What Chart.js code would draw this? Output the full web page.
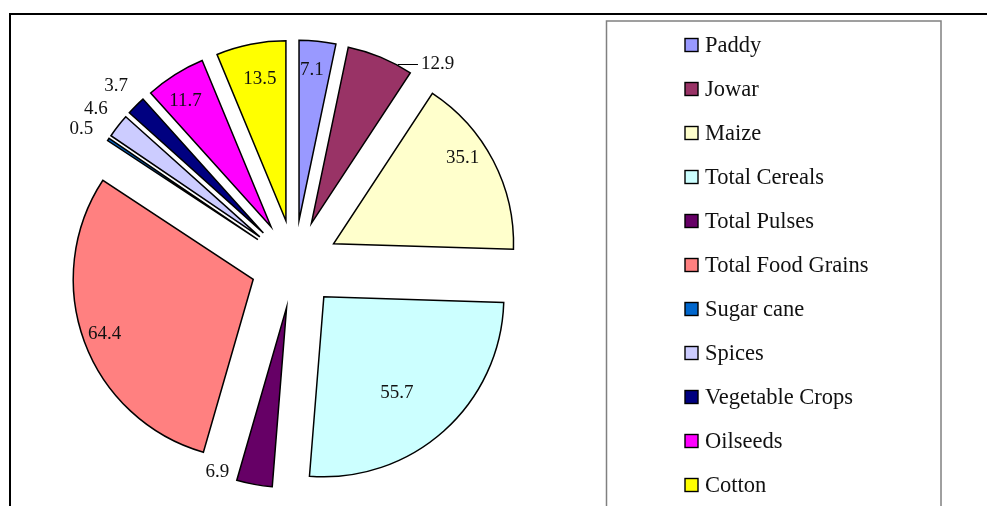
<!DOCTYPE html>
<html>
<head>
<meta charset="utf-8">
<script src="https://cdn.jsdelivr.net/npm/chart.js@4/dist/chart.umd.min.js"></script>
<style>
  html, body { margin: 0; padding: 0; background: #fff; }
  #wrap { width: 987px; height: 506px; }
</style>
</head>
<body>
<div id="wrap"><canvas id="crop-chart" width="987" height="506"></canvas></div>
<script>
// Crop data
const crops = ['Paddy', 'Jowar', 'Maize', 'Total Cereals', 'Total Pulses', 'Total Food Grains',
               'Sugar cane', 'Spices', 'Vegetable Crops', 'Oilseeds', 'Cotton'];
const shares = [7.1, 12.9, 35.1, 55.7, 6.9, 64.4, 0.5, 4.6, 3.7, 11.7, 13.5];
const sliceColors = ['#9999FF', '#993366', '#FFFFCC', '#CCFFFF', '#660066', '#FF8080',
                     '#0066CC', '#CCCCFF', '#000080', '#FF00FF', '#FFFF00'];

// Layout
const EXPLODE = 44;          // px every slice is pulled out
const PIE_RADIUS = 180;
const FONT = '"Liberation Serif", "Times New Roman", serif';

// Where each value label goes (Excel "best fit" look)
const outsideLabels = ['Jowar', 'Total Pulses', 'Sugar cane', 'Spices', 'Vegetable Crops'];
const labelNudge = {
    'Jowar': { angle: 13, dist: -6, leader: true },
    'Total Pulses': { angle: 10, dist: -30 },
    'Sugar cane': { angle: -1.5 },
    'Maize': { angle: -6, f: 0.86 },
    'Total Cereals': { angle: 4.5, f: 0.67 },
    'Total Food Grains': { f: 0.88 },
    'Oilseeds': { angle: -2, f: 0.845 },
    'Cotton': { angle: 0.8, f: 0.8 },
    'Paddy': { angle: -1 }
};

// Chart.js v4 moves an arc by offset/4, but also grows its radius by offset/4 * fix
// (fix = 1 - sin(circumference)) and trims its angle. Undo both so the pie looks
// like Excel's evenly exploded one.
const evenExplode = {
    id: 'evenExplode',
    afterDatasetUpdate(chart, args) {
        chart.getDatasetMeta(args.index).data.forEach(arc => {
            const fix = 1 - Math.sin(Math.min(Math.PI, arc.circumference));
            const grow = EXPLODE * fix;
            const widen = grow / (Math.PI * PIE_RADIUS) / 2;
            arc.outerRadius = PIE_RADIUS - grow;
            arc.startAngle -= widen;
            arc.endAngle += widen;
        });
    }
};

const valueLabels = {
    id: 'valueLabels',
    afterDatasetsDraw(chart) {
        const ctx = chart.ctx;
        const meta = chart.getDatasetMeta(0);
        ctx.save();
        ctx.font = '19px ' + FONT;
        ctx.fillStyle = '#111';
        ctx.textBaseline = 'middle';
        ctx.textAlign = 'center';
        meta.data.forEach((arc, i) => {
            const p = arc.getProps(['x', 'y', 'startAngle', 'endAngle'], true);
            const mid = (p.startAngle + p.endAngle) / 2;
            const name = crops[i];
            const nudge = labelNudge[name] || {};
            const ang = mid + (nudge.angle || 0) * Math.PI / 180;
            const text = String(shares[i]);
            let lx, ly;
            if (outsideLabels.includes(name)) {
                const d = PIE_RADIUS + EXPLODE + 28 + (nudge.dist || 0);
                lx = p.x + d * Math.cos(ang);
                ly = p.y + d * Math.sin(ang);
                if (nudge.leader) {
                    const cx = p.x + EXPLODE * Math.cos(mid);
                    const cy = p.y + EXPLODE * Math.sin(mid);
                    const dy = ly - cy;
                    const ax = cx + Math.sqrt(Math.max(PIE_RADIUS * PIE_RADIUS - dy * dy, 0));
                    const w = ctx.measureText(text).width;
                    ctx.strokeStyle = '#000';
                    ctx.lineWidth = 1;
                    ctx.beginPath();
                    ctx.moveTo(ax + 3, Math.round(ly) + 0.5);
                    ctx.lineTo(lx - w / 2 - 3, Math.round(ly) + 0.5);
                    ctx.stroke();
                }
            } else {
                const f = nudge.f || 0.84;
                lx = p.x + EXPLODE * Math.cos(mid) + f * PIE_RADIUS * Math.cos(ang);
                ly = p.y + EXPLODE * Math.sin(mid) + f * PIE_RADIUS * Math.sin(ang);
            }
            ctx.fillText(text, lx, ly);
        });
        ctx.restore();
    }
};

// Outer frame and the boxed legend on the right
const frameAndLegend = {
    id: 'frameAndLegend',
    afterDraw(chart) {
        const ctx = chart.ctx;
        ctx.save();
        ctx.strokeStyle = '#000';
        ctx.lineWidth = 2;
        ctx.strokeRect(10, 14, 1100, 600);

        ctx.strokeStyle = '#808080';
        ctx.lineWidth = 1.5;
        ctx.strokeRect(606.5, 21, 334.5, 600);

        ctx.font = '22.5px ' + FONT;
        ctx.textBaseline = 'middle';
        ctx.textAlign = 'left';
        crops.forEach((name, i) => {
            const y = 45 + i * 44;
            ctx.fillStyle = sliceColors[i];
            ctx.fillRect(685, y - 6.5, 13, 13);
            ctx.strokeStyle = '#000';
            ctx.lineWidth = 1.4;
            ctx.strokeRect(685, y - 6.5, 13, 13);
            ctx.fillStyle = '#111';
            ctx.fillText(name, 705, y + 1);
        });
        ctx.restore();
    }
};

new Chart(document.getElementById('crop-chart'), {
    type: 'pie',
    data: {
        labels: crops,
        datasets: [{
            data: shares,
            backgroundColor: sliceColors,
            borderColor: '#000',
            borderWidth: 1.5,
            borderJoinStyle: 'miter',
            offset: EXPLODE * 4,
            radius: PIE_RADIUS
        }]
    },
    options: {
        responsive: false,
        animation: false,
        radius: PIE_RADIUS,
        layout: { padding: { left: 0, right: 398, top: 22, bottom: 0 } },
        plugins: {
            legend: { display: false },
            tooltip: { enabled: false }
        },
        events: []
    },
    plugins: [evenExplode, valueLabels, frameAndLegend]
});
</script>
</body>
</html>
